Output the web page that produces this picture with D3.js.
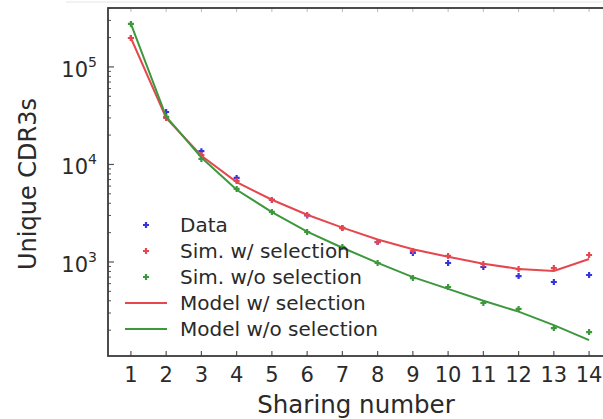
<!DOCTYPE html>
<html>
<head>
<meta charset="utf-8">
<script src="https://cdn.jsdelivr.net/npm/d3@7"></script>
<style>
  body { margin: 0; background: #fff; }
  svg { display: block; font-family: "DejaVu Sans", sans-serif; }
</style>
</head>
<body>
<div class="canvas-container"></div>
<script>
"use strict";

// sharing number on the x axis
var sharing = [1, 2, 3, 4, 5, 6, 7, 8, 9, 10, 11, 12, 13, 14];

// unique CDR3 counts
var dataPts   = [198000, 34500, 13700, 7280, 4330, 3000, 2230, 1600, 1236, 977, 889, 718, 624, 736];
var simSel    = [198000, 30000, 12500, 6780, 4330, 3035, 2233, 1604, 1297, 1153, 954, 847, 867, 1180];
var simNoSel  = [276000, 30700, 11400, 5610, 3260, 2030, 1426, 977, 685, 554, 380, 330, 210, 191];
var modelSel  = [198000, 30000, 12300, 6600, 4350, 3050, 2250, 1700, 1350, 1130, 960, 850, 810, 1075];
var modelNoSel = [276000, 31000, 11800, 5500, 3250, 2050, 1400, 980, 700, 530, 400, 310, 225, 158];

var yMajor = [1e3, 1e4, 1e5];
var yExp = ["3", "4", "5"];

var legendLabels = ["Data", "Sim. w/ selection", "Sim. w/o selection", "Model w/ selection", "Model w/o selection"];

var W = 603, H = 419;
var padL = 108, padR = 612, padT = 8, padB = 356;

var blue = "#3434e0", red = "#e5474f", green = "#3d983d", ink = "#2a2a2a";

var svg = d3.select("div.canvas-container")
    .append("svg")
    .attr("width", W)
    .attr("height", H);

var x = d3.scaleLinear().domain([0.35, 14.65]).range([padL, padR]);
var y = d3.scaleLog().domain([108.7, 402000]).range([padB, padT]);

// faint line along the top edge of the screenshot
svg.append("line")
    .attr("x1", 66).attr("x2", W).attr("y1", 2).attr("y2", 2)
    .attr("stroke", "#e6e6e6").attr("stroke-width", 1);

// minor y ticks
var minor = [];
[100, 1000, 10000, 100000].forEach(function (d) {
    for (var k = 2; k <= 9; k++) {
        var v = d * k;
        if (v > y.domain()[0] && v < y.domain()[1]) minor.push(v);
    }
});

var ticks = svg.append("g").attr("stroke", "#555");

ticks.selectAll("line.minor")
    .data(minor).enter().append("line")
    .attr("class", "minor")
    .attr("x1", padL).attr("x2", padL + 3)
    .attr("y1", function (d) { return y(d); })
    .attr("y2", function (d) { return y(d); })
    .attr("stroke-width", 1);

ticks.selectAll("line.major")
    .data(yMajor).enter().append("line")
    .attr("class", "major")
    .attr("x1", padL).attr("x2", padL + 6)
    .attr("y1", function (d) { return y(d); })
    .attr("y2", function (d) { return y(d); })
    .attr("stroke-width", 1.2);

ticks.selectAll("line.xb")
    .data(sharing).enter().append("line")
    .attr("class", "xb")
    .attr("x1", function (d) { return x(d); })
    .attr("x2", function (d) { return x(d); })
    .attr("y1", padB).attr("y2", padB - 5)
    .attr("stroke-width", 1.2);

ticks.selectAll("line.xt")
    .data(sharing).enter().append("line")
    .attr("class", "xt")
    .attr("x1", function (d) { return x(d); })
    .attr("x2", function (d) { return x(d); })
    .attr("y1", padT).attr("y2", padT + 4)
    .attr("stroke", "#bbb")
    .attr("stroke-width", 1);

// frame
svg.append("rect")
    .attr("x", padL).attr("y", padT)
    .attr("width", padR - padL).attr("height", padB - padT)
    .attr("fill", "none")
    .attr("stroke", "#3a3a3a")
    .attr("stroke-width", 1.8);

// x tick labels
svg.append("g").selectAll("text")
    .data(sharing).enter().append("text")
    .attr("x", function (d) { return x(d); })
    .attr("y", padB + 26)
    .attr("text-anchor", "middle")
    .attr("font-size", 21)
    .attr("fill", ink)
    .text(function (d) { return d; });

// y tick labels, 10 with superscript exponent
var ylab = svg.append("g").selectAll("text")
    .data(yMajor).enter().append("text")
    .attr("x", 97)
    .attr("y", function (d) { return y(d) + 10; })
    .attr("text-anchor", "end")
    .attr("font-size", 21)
    .attr("fill", ink);
ylab.append("tspan").text("10");
ylab.append("tspan")
    .attr("font-size", 14)
    .attr("dy", -10)
    .text(function (d, i) { return yExp[i]; });

// axis titles
svg.append("text")
    .attr("x", (padL + padR) / 2 - 4)
    .attr("y", 413)
    .attr("text-anchor", "middle")
    .attr("font-size", 24.5)
    .attr("fill", ink)
    .text("Sharing number");

svg.append("text")
    .attr("transform", "translate(36,184) rotate(-90)")
    .attr("text-anchor", "middle")
    .attr("font-size", 24)
    .attr("fill", ink)
    .text("Unique CDR3s");

var plot = svg.append("g");

function plus(g, vals, color) {
    g.append("g").selectAll("path")
        .data(vals).enter().append("path")
        .attr("d", function (d, i) {
            var cx = x(sharing[i]), cy = y(d);
            return "M" + (cx - 3) + "," + cy + "H" + (cx + 3) + "M" + cx + "," + (cy - 3) + "V" + (cy + 3);
        })
        .attr("stroke", color)
        .attr("stroke-width", 2.2)
        .attr("fill", "none");
}

plus(plot, dataPts, blue);
plus(plot, simSel, red);
plus(plot, simNoSel, green);

var line = d3.line()
    .x(function (d, i) { return x(sharing[i]); })
    .y(function (d) { return y(d); });

plot.append("path")
    .datum(modelSel)
    .attr("d", line)
    .attr("fill", "none")
    .attr("stroke", red)
    .attr("stroke-width", 2);

plot.append("path")
    .datum(modelNoSel)
    .attr("d", line)
    .attr("fill", "none")
    .attr("stroke", green)
    .attr("stroke-width", 2);

// legend
var legY = [225, 251, 277, 303, 329];
var legColors = [blue, red, green, red, green];
var leg = svg.append("g");

legendLabels.forEach(function (lab, i) {
    var ly = legY[i];
    if (i < 3) {
        leg.append("path")
            .attr("d", "M143," + ly + "H149M146," + (ly - 3) + "V" + (ly + 3))
            .attr("stroke", legColors[i])
            .attr("stroke-width", 2.2);
    } else {
        leg.append("line")
            .attr("x1", 125).attr("x2", 167)
            .attr("y1", ly).attr("y2", ly)
            .attr("stroke", legColors[i])
            .attr("stroke-width", 2);
    }
    leg.append("text")
        .attr("x", 180)
        .attr("y", ly + 7)
        .attr("font-size", 20)
        .attr("fill", ink)
        .text(lab);
});
</script>
</body>
</html>
